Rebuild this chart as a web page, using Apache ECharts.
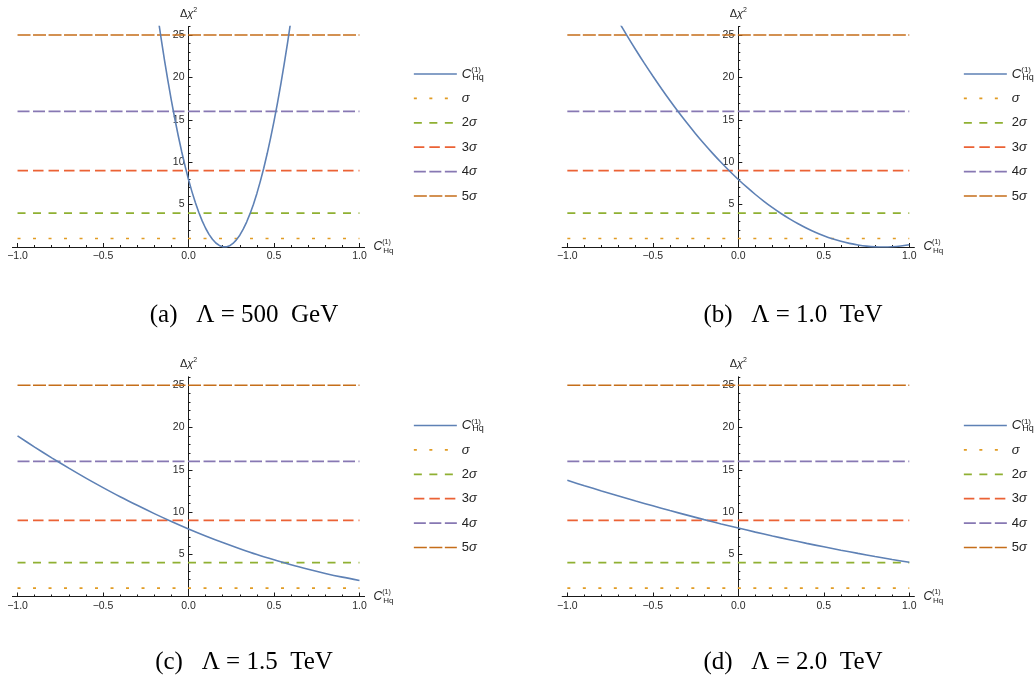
<!DOCTYPE html>
<html><head><meta charset="utf-8">
<script src="https://cdn.jsdelivr.net/npm/echarts@6/dist/echarts.min.js"></script>
<style>html,body{margin:0;padding:0;background:#fff}#c{width:1036px;height:682px}</style>
</head><body><div id="c"></div>
<script>
// ---------- data ----------
const panelCaptions = ['(a)   Λ = 500  GeV', '(b)   Λ = 1.0  TeV', '(c)   Λ = 1.5  TeV', '(d)   Λ = 2.0  TeV'];
const seriesNames = ['C', 'σ', '2σ', '3σ', '4σ', '5σ'];
const sigmaLevels = [1, 4, 9, 16, 25];
const xTickMajor = [-1, -0.5, 0, 0.5, 1];
const xTickMinor = [-0.9,-0.8,-0.7,-0.6,-0.4,-0.3,-0.2,-0.1,0.1,0.2,0.3,0.4,0.6,0.7,0.8,0.9];
const yTickMajor = [0, 5, 10, 15, 20, 25];
const yTickLabels = [5, 10, 15, 20, 25];
const yTickMinor = [1,2,3,4,6,7,8,9,11,12,13,14,16,17,18,19,21,22,23,24,26];

const a_c = [-0.18,-0.16,-0.14,-0.12,-0.10,-0.08,-0.06,-0.04,-0.02,0.00,0.02,0.04,0.06,0.08,0.10,0.12,0.14,0.16,0.18,0.20,0.22,0.24,0.26,0.28,0.30,0.32,0.34,0.36,0.38,0.40,0.42,0.44,0.46,0.48,0.50,0.52,0.54,0.56,0.58,0.60];
const a_chi2 = [27.28,24.57,21.99,19.56,17.27,15.12,13.12,11.26,9.54,7.96,6.53,5.24,4.09,3.08,2.21,1.49,0.91,0.47,0.18,0.02,0.01,0.14,0.42,0.84,1.39,2.10,2.94,3.93,5.05,6.32,7.74,9.29,10.99,12.83,14.82,16.94,19.21,21.62,24.17,26.87];

const b_c = [-0.70,-0.65,-0.60,-0.55,-0.50,-0.45,-0.40,-0.35,-0.30,-0.25,-0.20,-0.15,-0.10,-0.05,0.00,0.05,0.10,0.15,0.20,0.25,0.30,0.35,0.40,0.45,0.50,0.55,0.60,0.65,0.70,0.75,0.80,0.85,0.90,0.95,1.00];
const b_chi2 = [26.59,24.90,23.26,21.68,20.16,18.69,17.27,15.91,14.61,13.36,12.17,11.04,9.96,8.93,7.96,7.05,6.19,5.39,4.64,3.95,3.32,2.74,2.21,1.74,1.33,0.97,0.67,0.43,0.24,0.10,0.02,0.00,0.03,0.12,0.26];

const cd_c = [-1.0,-0.9,-0.8,-0.7,-0.6,-0.5,-0.4,-0.3,-0.2,-0.1,0.0,0.1,0.2,0.3,0.4,0.5,0.6,0.7,0.8,0.9,1.0];
const c_chi2 = [19.00,17.68,16.41,15.19,14.01,12.89,11.81,10.79,9.81,8.88,8.00,7.17,6.39,5.66,4.97,4.34,3.75,3.22,2.73,2.29,1.90];
const d_chi2 = [13.75,13.11,12.49,11.89,11.30,10.73,10.17,9.63,9.10,8.59,8.10,7.62,7.16,6.72,6.29,5.88,5.48,5.10,4.73,4.38,4.05];

const curves = [[a_c, a_chi2], [b_c, b_chi2], [cd_c, c_chi2], [cd_c, d_chi2]];

// ---------- styling / layout ----------
const colors = ['#5E81B5', '#E19C24', '#8FB032', '#EB6235', '#8778B3', '#C56E1A'];
const dashes = ['solid', [3, 12.5], [8, 7.5], [10.5, 5], [12, 3.5], [13, 2.5]];
const X_MIN = -1.03, X_MAX = 1.03;
const grids = [
  {left: 12.4, top: 26.5, width: 352.2, height: 220.5},
  {left: 562.2, top: 26.5, width: 352.2, height: 220.5},
  {left: 12.4, top: 376.8, width: 352.2, height: 219.7},
  {left: 562.2, top: 376.8, width: 352.2, height: 219.7}
];
const legendPos = [{left: 408, top: 61}, {left: 958, top: 61}, {left: 408, top: 412.5}, {left: 958, top: 412.5}];
const captionPos = [{x: 244, y: 303}, {x: 793, y: 303}, {x: 244, y: 650}, {x: 793, y: 650}];

const sans = 'Liberation Sans';
const axisColor = '#1a1a1a';
const labelColor = '#2a2a2a';
const fmtX = v => (Math.abs(v) < 1e-9 ? '0.0' : v.toFixed(1).replace('-', '\u2212'));
const legendLabels = {
  'C': '{i|C}{sup|(1)}{sub|Hq}',
  'σ': '{s|σ}',
  '2σ': '{n|2}{s|σ}',
  '3σ': '{n|3}{s|σ}',
  '4σ': '{n|4}{s|σ}',
  '5σ': '{n|5}{s|σ}'
};
const richC = {
  i: {fontStyle: 'italic', fontSize: 13, lineHeight: 16, fontFamily: sans, color: '#222'},
  sup: {fontSize: 8, lineHeight: 16, verticalAlign: 'top', width: 1, fontFamily: sans, color: '#222'},
  sub: {fontSize: 9, lineHeight: 16, verticalAlign: 'bottom', fontFamily: sans, color: '#222'},
  s: {fontStyle: 'italic', fontSize: 13, lineHeight: 16, fontFamily: sans, color: '#222'},
  n: {fontSize: 13, lineHeight: 16, fontFamily: sans, color: '#222'}
};

const option = {
  animation: false,
  backgroundColor: '#fff',
  title: panelCaptions.map((t, i) => ({
    text: t, left: captionPos[i].x, top: captionPos[i].y, textAlign: 'center', padding: 0,
    textStyle: {fontFamily: 'Liberation Serif', fontSize: 25, fontWeight: 'normal', color: '#000'}
  })),
  grid: grids.map(g => Object.assign({containLabel: false, outerBoundsMode: 'none'}, g)),
  legend: legendPos.map(p => ({
    orient: 'vertical', left: p.left, top: p.top,
    itemWidth: 43, itemHeight: 14, itemGap: 8.4, selectedMode: false,
    data: seriesNames.map((n, k) => ({
      name: n,
      lineStyle: {color: colors[k], width: k === 0 ? 1.5 : 1.7, type: dashes[k]},
      itemStyle: {opacity: 0, color: 'transparent', borderWidth: 0}
    })),
    formatter: n => legendLabels[n],
    textStyle: {fontSize: 13, lineHeight: 16, fontFamily: sans, color: '#222', rich: richC}
  })),
  xAxis: [],
  yAxis: [],
  series: []
};

grids.forEach((g, i) => {
  // distance from grid left edge to x = 0
  const zeroOffset = g.width * (0 - X_MIN) / (X_MAX - X_MIN);
  option.xAxis.push({
    gridIndex: i, type: 'value', min: X_MIN, max: X_MAX, position: 'bottom',
    axisLine: {show: true, onZero: false, lineStyle: {color: axisColor, width: 1}},
    axisTick: {show: true, inside: true, length: 4, customValues: xTickMajor, lineStyle: {color: axisColor}},
    axisLabel: {customValues: xTickMajor, formatter: fmtX, margin: 4, fontSize: 10.5, color: labelColor, fontFamily: sans},
    splitLine: {show: false},
    name: '{i|C}{sup|(1)}{sub|Hq}', nameLocation: 'end', nameGap: 9,
    nameTextStyle: {rich: {
      i: {fontStyle: 'italic', fontSize: 12, lineHeight: 16, fontFamily: sans, color: '#222'},
      sup: {fontSize: 7, lineHeight: 16, verticalAlign: 'top', width: 1, fontFamily: sans, color: '#222'},
      sub: {fontSize: 8, lineHeight: 16, verticalAlign: 'bottom', fontFamily: sans, color: '#222'}
    }}
  });
  option.xAxis.push({
    gridIndex: i, type: 'value', min: X_MIN, max: X_MAX, position: 'bottom',
    axisLine: {show: false, onZero: false},
    axisTick: {show: true, inside: true, length: 2, customValues: xTickMinor, lineStyle: {color: axisColor}},
    axisLabel: {show: false}, splitLine: {show: false}
  });
  option.yAxis.push({
    gridIndex: i, type: 'value', min: 0, max: 26, position: 'left', offset: -zeroOffset,
    axisLine: {show: true, onZero: false, lineStyle: {color: axisColor, width: 1}},
    axisTick: {show: true, inside: true, length: 4, customValues: yTickMajor, lineStyle: {color: axisColor}},
    axisLabel: {customValues: yTickLabels, margin: 4, fontSize: 10.5, color: labelColor, fontFamily: sans},
    splitLine: {show: false},
    name: '{d|Δ}{x|χ}{s|2}', nameLocation: 'end', nameGap: 6,
    nameTextStyle: {rich: {
      d: {fontSize: 11, lineHeight: 14, fontFamily: sans, color: '#222'},
      x: {fontSize: 11, fontStyle: 'italic', lineHeight: 14, fontFamily: sans, color: '#222'},
      s: {fontSize: 7, lineHeight: 14, verticalAlign: 'top', fontFamily: sans, color: '#222'}
    }}
  });
  option.yAxis.push({
    gridIndex: i, type: 'value', min: 0, max: 26, position: 'left', offset: -zeroOffset,
    axisLine: {show: false, onZero: false},
    axisTick: {show: true, inside: true, length: 2, customValues: yTickMinor, lineStyle: {color: axisColor}},
    axisLabel: {show: false}, splitLine: {show: false}
  });

  const [xs, ys] = curves[i];
  sigmaLevels.forEach((lvl, k) => {
    option.series.push({
      type: 'line', name: seriesNames[k + 1], xAxisIndex: 2 * i, yAxisIndex: 2 * i,
      data: [[-1, lvl], [1, lvl]], symbol: 'none', silent: true, z: 2,
      lineStyle: {color: colors[k + 1], width: 1.7, type: dashes[k + 1]},
      itemStyle: {color: colors[k + 1]}
    });
  });
  option.series.push({
    type: 'line', name: seriesNames[0], xAxisIndex: 2 * i, yAxisIndex: 2 * i,
    data: xs.map((x, j) => [x, ys[j]]), symbol: 'none', silent: true, z: 3, clip: true,
    smooth: i === 0 ? false : 0.3,
    lineStyle: {color: colors[0], width: 1.6},
    itemStyle: {color: colors[0]}
  });
});

const chart = echarts.init(document.getElementById('c'), null, {renderer: 'canvas'});
chart.setOption(option);
</script>
</body></html>
